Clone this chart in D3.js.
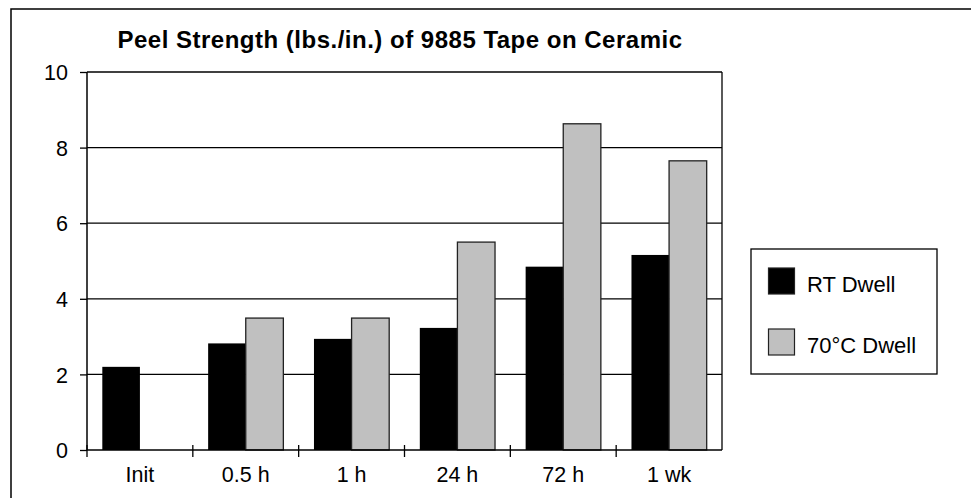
<!DOCTYPE html>
<html>
<head>
<meta charset="utf-8">
<script src="https://cdn.jsdelivr.net/npm/d3@7"></script>
<style>
  body { margin: 0; background: #fff; }
  svg text { font-family: "Liberation Sans", Arial, sans-serif; fill: #000; }
</style>
</head>
<body>
<div id="chart"></div>
<script>
// Chart data
var categories = ["Init", "0.5 h", "1 h", "24 h", "72 h", "1 wk"];
var rtDwell = [2.2, 2.82, 2.94, 3.23, 4.85, 5.16];
var hotDwell = [null, 3.49, 3.49, 5.5, 8.63, 7.65];
var seriesNames = ["RT Dwell", "70\u00B0C Dwell"];
var yTicks = [0, 2, 4, 6, 8, 10];

var W = 971, H = 498;
var plot = {left: 87, right: 722, top: 72, bottom: 450};

var svg = d3.select("#chart")
            .append("svg")
            .attr("width", W)
            .attr("height", H);

// Outer frame (top and left edges visible)
svg.append("path")
   .attr("d", "M11," + H + "V9H" + W)
   .attr("fill", "none")
   .attr("stroke", "#000")
   .attr("stroke-width", 1.5);

// Scales
var x = d3.scaleBand()
          .domain(categories)
          .range([plot.left, plot.right])
          .paddingInner(0)
          .paddingOuter(0);

var xInner = d3.scaleBand()
               .domain(seriesNames)
               .range([0, x.bandwidth()])
               .paddingInner(0)
               .paddingOuter(0.407);

var y = d3.scaleLinear()
          .domain([0, 10])
          .range([plot.bottom, plot.top]);

// Gridlines
svg.append("g")
   .selectAll("line")
   .data(yTicks.filter(function(d) { return d > 0; }))
   .enter()
   .append("line")
   .attr("x1", plot.left)
   .attr("x2", plot.right)
   .attr("y1", function(d) { return y(d); })
   .attr("y2", function(d) { return y(d); })
   .attr("stroke", "#000")
   .attr("stroke-width", 1.3);

// Right border of plot area
svg.append("line")
   .attr("x1", plot.right).attr("x2", plot.right)
   .attr("y1", plot.top).attr("y2", plot.bottom)
   .attr("stroke", "#000")
   .attr("stroke-width", 1.3);

// Bars
var groups = svg.append("g")
   .selectAll("g")
   .data(categories)
   .enter()
   .append("g")
   .attr("transform", function(d) { return "translate(" + x(d) + ",0)"; });

groups.append("rect")
   .attr("x", xInner(seriesNames[0]))
   .attr("width", xInner.bandwidth())
   .attr("y", function(d, i) { return y(rtDwell[i]); })
   .attr("height", function(d, i) { return y(0) - y(rtDwell[i]); })
   .attr("fill", "#000");

groups.filter(function(d, i) { return hotDwell[i] != null; })
   .append("rect")
   .attr("x", xInner(seriesNames[1]))
   .attr("width", xInner.bandwidth())
   .attr("y", function(d) { return y(hotDwell[categories.indexOf(d)]); })
   .attr("height", function(d) { return y(0) - y(hotDwell[categories.indexOf(d)]); })
   .attr("fill", "#c0c0c0")
   .attr("stroke", "#222")
   .attr("stroke-width", 1.3);

// Y axis
var yAxis = svg.append("g")
   .attr("transform", "translate(" + plot.left + ",0)")
   .call(d3.axisLeft(y).tickValues(yTicks).tickSize(7).tickPadding(12).tickFormat(d3.format("d")));
yAxis.select(".domain").attr("stroke", "#000").attr("stroke-width", 1.5).attr("d", "M0," + plot.bottom + "V" + plot.top);
yAxis.selectAll(".tick line").attr("stroke", "#000").attr("stroke-width", 1.3);
yAxis.selectAll("text").style("font-size", "21.5px").attr("dy", "0.36em");

// X axis
svg.append("line")
   .attr("x1", plot.left).attr("x2", plot.right)
   .attr("y1", plot.bottom).attr("y2", plot.bottom)
   .attr("stroke", "#000")
   .attr("stroke-width", 1.5);

svg.append("g")
   .selectAll("line")
   .data(categories)
   .enter()
   .append("line")
   .attr("x1", function(d) { return x(d); })
   .attr("x2", function(d) { return x(d); })
   .attr("y1", plot.bottom - 5)
   .attr("y2", plot.bottom + 7)
   .attr("stroke", "#000")
   .attr("stroke-width", 1.3);

svg.append("g")
   .selectAll("text")
   .data(categories)
   .enter()
   .append("text")
   .attr("x", function(d) { return x(d) + x.bandwidth() / 2; })
   .attr("y", 482)
   .attr("text-anchor", "middle")
   .style("font-size", "21.5px")
   .text(function(d) { return d; });

// Title
svg.append("text")
   .attr("x", 400)
   .attr("y", 48)
   .attr("text-anchor", "middle")
   .style("font-size", "24px")
   .style("font-weight", "bold")
   .style("letter-spacing", "0.5px")
   .text("Peel Strength (lbs./in.) of 9885 Tape on Ceramic");

// Legend
var legend = svg.append("g").attr("transform", "translate(751,249)");
legend.append("rect")
   .attr("width", 186)
   .attr("height", 125)
   .attr("fill", "#fff")
   .attr("stroke", "#000")
   .attr("stroke-width", 1.3);

var legendFill = ["#000", "#c0c0c0"];
var item = legend.selectAll(".item")
   .data(seriesNames)
   .enter()
   .append("g")
   .attr("class", "item")
   .attr("transform", function(d, i) { return "translate(0," + (19 + i * 61) + ")"; });

item.append("rect")
   .attr("x", 17.5)
   .attr("width", 26)
   .attr("height", 26)
   .attr("fill", function(d, i) { return legendFill[i]; })
   .attr("stroke", "#222")
   .attr("stroke-width", 1.2);

item.append("text")
   .attr("x", 56)
   .attr("y", 24)
   .style("font-size", "22px")
   .text(function(d) { return d; });
</script>
</body>
</html>
